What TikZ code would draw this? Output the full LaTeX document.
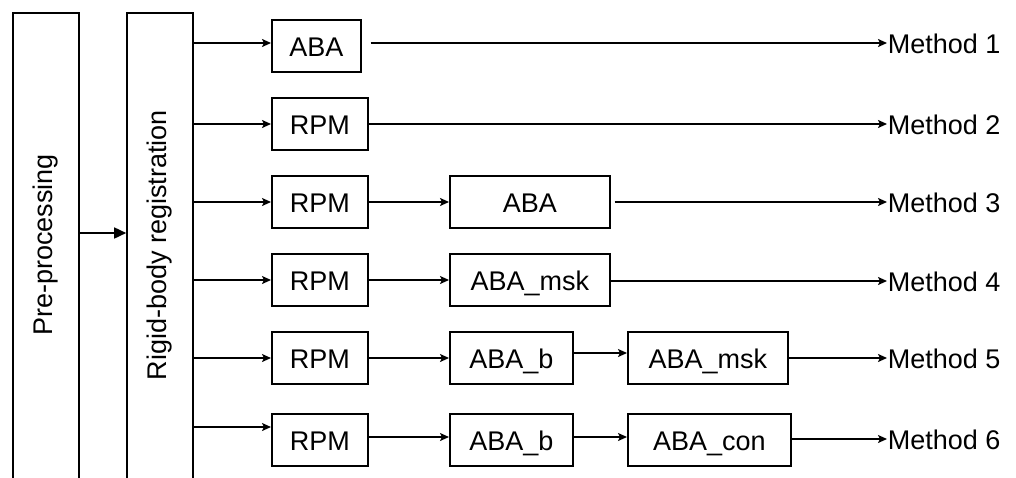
\documentclass[tikz,border=0pt]{standalone}
\usepackage{fontspec}
\setmainfont{Liberation Sans}
\usetikzlibrary{arrows.meta}
\begin{document}
\begin{tikzpicture}[x=1pt,y=-1pt,
  line width=1.6pt,
  every node/.style={font=\fontsize{27}{30}\selectfont, inner sep=0pt},
  stage/.style={draw, minimum height=52pt, anchor=west, text height=20pt, text depth=0pt},
  col/.style={draw, minimum width=66pt, minimum height=520pt, anchor=north},
  link/.style={-{Stealth[length=9pt,width=8pt,inset=2pt]}},
  biglink/.style={-{Triangle[length=12pt,width=11pt]}},
  outlbl/.style={anchor=west, text height=20pt, text depth=0pt}
]
\useasboundingbox (0,0) rectangle (1016,477);
\clip (0,0) rectangle (1016,477);

% two tall stage columns running off the bottom edge
\node[col] (pre) at (46,12) {};
\node[rotate=90] (pretxt) at (46,245) {Pre-processing};
\node[col] (rig) at (160,12) {};
\node[rotate=90] (rigtxt) at (160,245) {Rigid-body registration};
\draw[biglink] (pre.east |- 0,233) -- (rig.west |- 0,233);

% first column of boxes
\node[stage, minimum width=89pt]  (a1) at (271,46)  {ABA};
\node[stage, minimum width=96pt]  (r2) at (271,124) {RPM};
\node[stage, minimum width=96pt]  (r3) at (271,202) {RPM};
\node[stage, minimum width=96pt]  (r4) at (271,280) {RPM};
\node[stage, minimum width=96pt]  (r5) at (271,358) {RPM};
\node[stage, minimum width=96pt]  (r6) at (271,440) {RPM};

% second column
\node[stage, minimum width=160pt] (b3) at (449,202) {ABA};
\node[stage, minimum width=160pt] (b4) at (449,280) {ABA\_msk};
\node[stage, minimum width=123pt] (b5) at (449,358) {ABA\_b};
\node[stage, minimum width=123pt] (b6) at (449,440) {ABA\_b};

% third column
\node[stage, minimum width=160pt] (c5) at (627,358) {ABA\_msk};
\node[stage, minimum width=163pt] (c6) at (627,440) {ABA\_con};

% outputs
\node[outlbl] (m1) at (887,43)  {Method 1};
\node[outlbl] (m2) at (887,124) {Method 2};
\node[outlbl] (m3) at (887,202) {Method 3};
\node[outlbl] (m4) at (887,281) {Method 4};
\node[outlbl] (m5) at (887,358) {Method 5};
\node[outlbl] (m6) at (887,439) {Method 6};

% rigid-body registration feeds every pipeline
\draw[link] (rig.east |- 0,43)  -- (a1.west |- 0,43);
\draw[link] (rig.east |- r2.west) -- (r2.west);
\draw[link] (rig.east |- r3.west) -- (r3.west);
\draw[link] (rig.east |- r4.west) -- (r4.west);
\draw[link] (rig.east |- r5.west) -- (r5.west);
\draw[link] (rig.east |- 0,427) -- (r6.west |- 0,427);

% chains inside each pipeline
\draw[link] (r3) -- (b3);
\draw[link] (r4) -- (b4);
\draw[link] (r5) -- (b5);
\draw[link] (r6.east |- 0,437) -- (b6.west |- 0,437);
\draw[link] (b5.east |- 0,353) -- (c5.west |- 0,353);
\draw[link] (b6.east |- 0,437) -- (c6.west |- 0,437);

% to the method labels
\draw[link] ([xshift=9pt]a1.east |- m1.west) -- (m1.west);
\draw[link] (r2.east) -- (m2.west);
\draw[link] ([xshift=4pt]b3.east) -- (m3.west);
\draw[link] (b4.east |- m4.west) -- (m4.west);
\draw[link] (c5.east) -- (m5.west);
\draw[link] (c6.east |- m6.west) -- (m6.west);
\end{tikzpicture}
\end{document}
